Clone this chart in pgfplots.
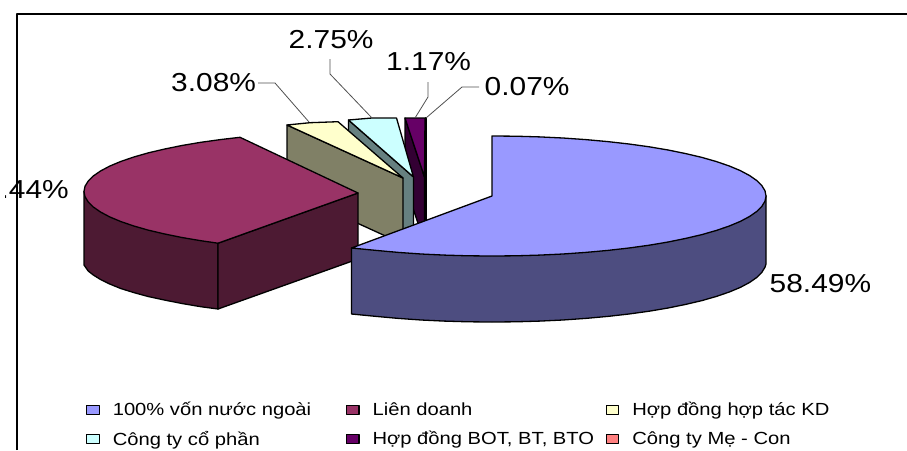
\documentclass[border=0pt]{standalone}
\usepackage{pgfplots}
\pgfplotsset{compat=1.18}
\usepackage{fontspec}
\setmainfont{Liberation Sans}[FakeStretch=1.15]
\definecolor{vonTop}{HTML}{9999FF}\definecolor{vonSide}{HTML}{4D4D80}
\definecolor{ldTop}{HTML}{993366}\definecolor{ldSide}{HTML}{4D1A33}
\definecolor{hdTop}{HTML}{FFFFCC}\definecolor{hdSide}{HTML}{808066}
\definecolor{cpTop}{HTML}{CCFFFF}\definecolor{cpSide}{HTML}{668080}
\definecolor{botTop}{HTML}{660066}\definecolor{botSide}{HTML}{330033}
\definecolor{mcTop}{HTML}{FF8080}\definecolor{mcSide}{HTML}{804040}
\definecolor{leader}{HTML}{505050}
\newcommand{\lab}{\fontsize{26}{30}\selectfont}
\newcommand{\leg}[1]{\makebox[242pt][l]{\hspace{11pt}\fontsize{17.55}{20}\selectfont #1}}
\begin{document}
\begin{tikzpicture}
\useasboundingbox (0,0) rectangle (907pt,450pt);
\begin{axis}[
  at={(0,0)}, anchor=south west,
  scale only axis, width=907pt, height=450pt,
  xmin=0, xmax=907, ymin=0, ymax=450, y dir=reverse,
  hide axis,
  legend columns=3,
  legend cell align=left,
  legend image code/.code={\draw[#1,line width=1.3pt] (0pt,-4.5pt) rectangle (12.5pt,4.5pt);},
  legend style={at={(axis cs:86,424.5)}, anchor=west, draw=none, fill=none,
    inner sep=0pt, outer sep=0pt,
    /tikz/every even column/.append style={column sep=0pt},
    /tikz/column sep=0pt, row sep=10pt},
  every axis plot/.append style={draw=black, line width=1.3pt, line join=round},
]
% frame of the chart area
\addplot[draw=black, line width=1.5pt, forget plot] coordinates {(17,450)(17,14)(907,14)};

% Cong ty Me - Con, 0.07%
\addplot[fill=mcSide, forget plot] coordinates {(425.5,177)(426.5,177)(426.5,243)(425.5,243)} --cycle;
\addplot[fill=mcTop, forget plot] coordinates {(425.5,118)(426.5,118)(426.5,177)(425.5,177)} --cycle;

% Hop dong BOT, BT, BTO, 1.17%
\addplot[fill=botSide, forget plot] coordinates {(405,118)(424.5,177)(424.5,243)(405,184)} --cycle;
\addplot[fill=botTop, forget plot] coordinates {(405,118)(425,118)(424.5,177)} --cycle;

% Cong ty co phan, 2.75%
\addplot[fill=cpSide, forget plot] coordinates {(348.5,120)(413.5,177)(413.5,243)(348.5,186)} --cycle;
\addplot[fill=cpTop, forget plot] coordinates {(348.5,120)(372,118)(396.5,118)(413.5,177)} --cycle;

% Hop dong hop tac KD, 3.08%
\addplot[fill=hdSide, forget plot] coordinates {(287,125)(403,178)(403,244)(287,191)} --cycle;
\addplot[fill=hdTop, forget plot] coordinates {(287,125)(310,122.7)(338,121.7)(403,178)} --cycle;

% Lien doanh, 34.44%: outer wall, cut wall, top
\addplot[fill=ldSide, forget plot] coordinates {
 (84,191.5)(84,265)(88.2,271)(93.3,275)(100.5,279.5)(109.7,284)(120.7,288.5)(133.5,292.5)
 (148.1,296.5)(164.3,300)(181.9,303.5)(200.8,306.7)(218,309)(218,243.2)} --cycle;
\addplot[fill=ldSide, forget plot] coordinates {(218,243.2)(358,193)(358,259)(218,309)} --cycle;
\addplot[fill=ldTop, forget plot] coordinates {
 (358,193)(218,243.2)(200.8,240.7)(181.9,237.5)(164.3,233.9)(148.1,230.1)(133.5,225.9)
 (120.7,221.5)(109.7,216.9)(100.5,212)(93.3,207)(88.2,201.9)(85,196.7)(84,191.5)(85,186.3)
 (88.2,181.1)(93.3,176)(100.5,171)(109.7,166.1)(120.7,161.5)(133.5,157.1)(148.1,152.9)
 (164.3,149.1)(181.9,145.5)(200.8,142.3)(221,139.5)(240,137.3)} --cycle;

% 100% von nuoc ngoai, 58.49%: outer wall, top
\addplot[fill=vonSide, forget plot] coordinates {
 (766,196)(766,264)(765,267.2)(761.8,272.4)(756.7,277.5)(749.5,282.5)(740.3,287.4)(729.3,292)
 (716.5,296.4)(701.9,300.6)(685.7,304.4)(668.1,308)(649.2,311.2)(629,314)(607.8,316.4)
 (585.7,318.4)(562.9,320)(539.6,321.1)(515.9,321.8)(492,322)(468.1,321.8)(444.4,321.1)
 (421.1,320)(398.3,318.4)(376.2,316.4)(351.5,314)(351.5,248)} --cycle;
\addplot[fill=vonTop, forget plot] coordinates {
 (492,196)(492,136)(515.9,136.2)(539.6,136.9)(562.9,138)(585.7,139.6)(607.8,141.6)(629,144)
 (649.2,146.8)(668.1,150)(685.7,153.6)(701.9,157.4)(716.5,161.6)(729.3,166)(740.3,170.6)
 (749.5,175.5)(756.7,180.5)(761.8,185.6)(765,190.8)(766,196)(765,201.2)(761.8,206.4)
 (756.7,211.5)(749.5,216.5)(740.3,221.4)(729.3,226)(716.5,230.4)(701.9,234.6)(685.7,238.4)
 (668.1,242)(649.2,245.2)(629,248)(607.8,250.4)(585.7,252.4)(562.9,254)(539.6,255.1)
 (515.9,255.8)(492,256)(468.1,255.8)(444.4,255.1)(421.1,254)(398.3,252.4)(376.2,250.4)(351.5,248)} --cycle;

% leader lines
\addplot[draw=leader, line width=.8pt, forget plot] coordinates {(258,83)(275,83)(309,122)};
\addplot[draw=leader, line width=.8pt, forget plot] coordinates {(330,59)(330,74)(372,118)};
\addplot[draw=leader, line width=.8pt, forget plot] coordinates {(428,82)(428,97)(415,118)};
\addplot[draw=leader, line width=.8pt, forget plot] coordinates {(479,87)(462,87)(426,118)};

% percentage labels
\node[anchor=west, inner sep=0pt] at (axis cs:171,83) {\lab 3.08\%};
\node[anchor=west, inner sep=0pt] at (axis cs:288.5,40) {\lab 2.75\%};
\node[anchor=west, inner sep=0pt] at (axis cs:386,62) {\lab 1.17\%};
\node[anchor=west, inner sep=0pt] at (axis cs:484.5,87) {\lab 0.07\%};
\node[anchor=west, inner sep=0pt] at (axis cs:769.5,284) {\lab 58.49\%};
\begin{scope}
\clip (axis cs:5,150) rectangle (axis cs:120,230);
\node[anchor=east, inner sep=0pt] at (axis cs:69,189.5) {\lab 34.44\%};
\end{scope}

% legend
\addlegendimage{fill=vonTop}\addlegendentry{\leg{100\% vốn nước ngoài}}
\addlegendimage{fill=ldTop}\addlegendentry{\leg{Liên doanh}}
\addlegendimage{fill=hdTop}\addlegendentry{\leg{Hợp đồng hợp tác KD}}
\addlegendimage{fill=cpTop}\addlegendentry{\leg{Công ty cổ phần}}
\addlegendimage{fill=botTop}\addlegendentry{\leg{Hợp đồng BOT, BT, BTO}}
\addlegendimage{fill=mcTop}\addlegendentry{\leg{Công ty Mẹ - Con}}
\end{axis}
\end{tikzpicture}
\end{document}
